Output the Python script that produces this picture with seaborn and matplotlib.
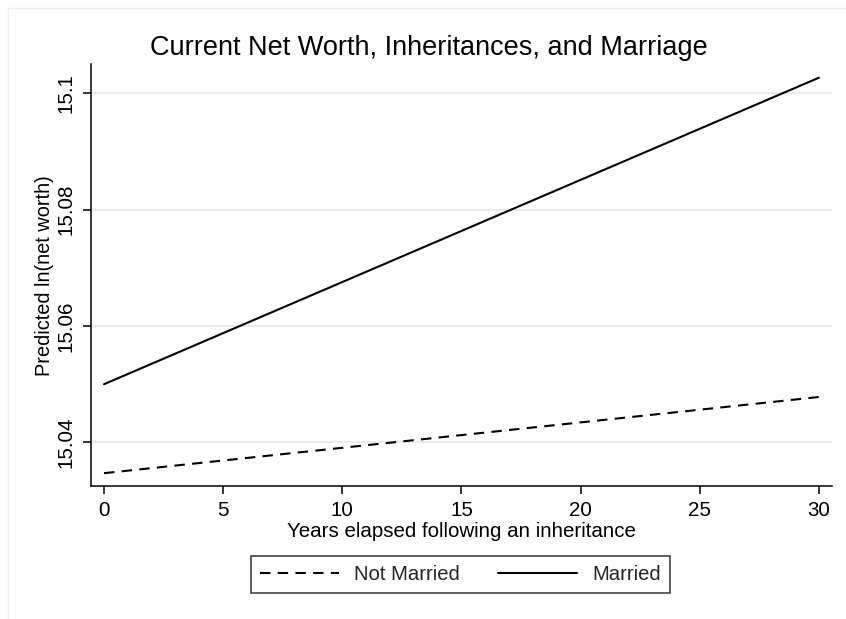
import matplotlib
matplotlib.use("Agg")
import matplotlib.pyplot as plt
from matplotlib.lines import Line2D
import pandas as pd
import seaborn as sns

# Predicted ln(net worth) at the start and end of the 30-year window
years = [0, 30]
not_married = [15.0347, 15.0478]
married = [15.0500, 15.1027]
x_ticks = [0, 5, 10, 15, 20, 25, 30]
y_ticks = [15.04, 15.06, 15.08, 15.10]
y_tick_labels = ["15.04", "15.06", "15.08", "15.1"]

df = pd.DataFrame({
    "years": years * 2,
    "lnw": not_married + married,
    "status": ["Not Married"] * len(years) + ["Married"] * len(years),
})

sns.set_theme(style="white")
plt.rcParams["font.family"] = ["Liberation Sans", "DejaVu Sans"]

fig = plt.figure(figsize=(8.46, 6.19), dpi=100)
ax = fig.add_axes([0.1072, 0.2149, 0.8763, 0.6812])

dash_style = (5, 3.5)
sns.lineplot(data=df, x="years", y="lnw", style="status",
             style_order=["Not Married", "Married"],
             dashes={"Not Married": dash_style, "Married": ""},
             color="black", linewidth=1.5, legend=False, ax=ax)

ax.set_xlim(-0.56, 30.55)
ax.set_ylim(15.0325, 15.105)
ax.set_xticks(x_ticks)
ax.set_xticklabels([str(t) for t in x_ticks], fontsize=14.8)
ax.set_yticks(y_ticks)
ax.set_yticklabels(y_tick_labels, fontsize=14.8, rotation=90, va="center")

ax.grid(axis="y", color="#e6e6e6", linewidth=1.1)
ax.grid(axis="x", visible=False)
ax.set_axisbelow(True)
for side in ["top", "right"]:
    ax.spines[side].set_visible(False)
for side in ["left", "bottom"]:
    ax.spines[side].set_color("black")
    ax.spines[side].set_linewidth(1.1)
ax.tick_params(axis="both", direction="out", length=6, width=1.1,
               color="black", labelcolor="black", pad=5,
               bottom=True, left=True)

ax.set_xlabel("Years elapsed following an inheritance", fontsize=14.8,
              color="black", labelpad=1)
ax.set_ylabel("Predicted ln(net worth)", fontsize=14.4, color="black",
              labelpad=2)

fig.text(429 / 846, 1 - 55 / 619, "Current Net Worth, Inheritances, and Marriage",
         ha="center", va="baseline", fontsize=19.5, color="black")

handles = [
    Line2D([], [], color="black", linewidth=1.5, linestyle=(0, dash_style)),
    Line2D([], [], color="black", linewidth=1.5),
]
leg = fig.legend(handles, ["Not Married", "Married"], loc="center",
                 bbox_to_anchor=(460.5 / 846, 1 - 574.5 / 619), ncol=2,
                 fontsize=14.6, handlelength=3.9, columnspacing=1.9,
                 handletextpad=0.75, borderpad=0.45, borderaxespad=0,
                 frameon=True, fancybox=False)
leg.get_frame().set_edgecolor("black")
leg.get_frame().set_linewidth(1.1)

# faint outer frame of the graph region
fig.add_artist(Line2D([8 / 846, 8 / 846], [0, 1 - 8 / 619],
                      transform=fig.transFigure, color="#eeeeee", linewidth=1))
fig.add_artist(Line2D([8 / 846, 1], [1 - 8 / 619, 1 - 8 / 619],
                      transform=fig.transFigure, color="#eeeeee", linewidth=1))

fig.savefig("out.png", dpi=100, facecolor="white")
